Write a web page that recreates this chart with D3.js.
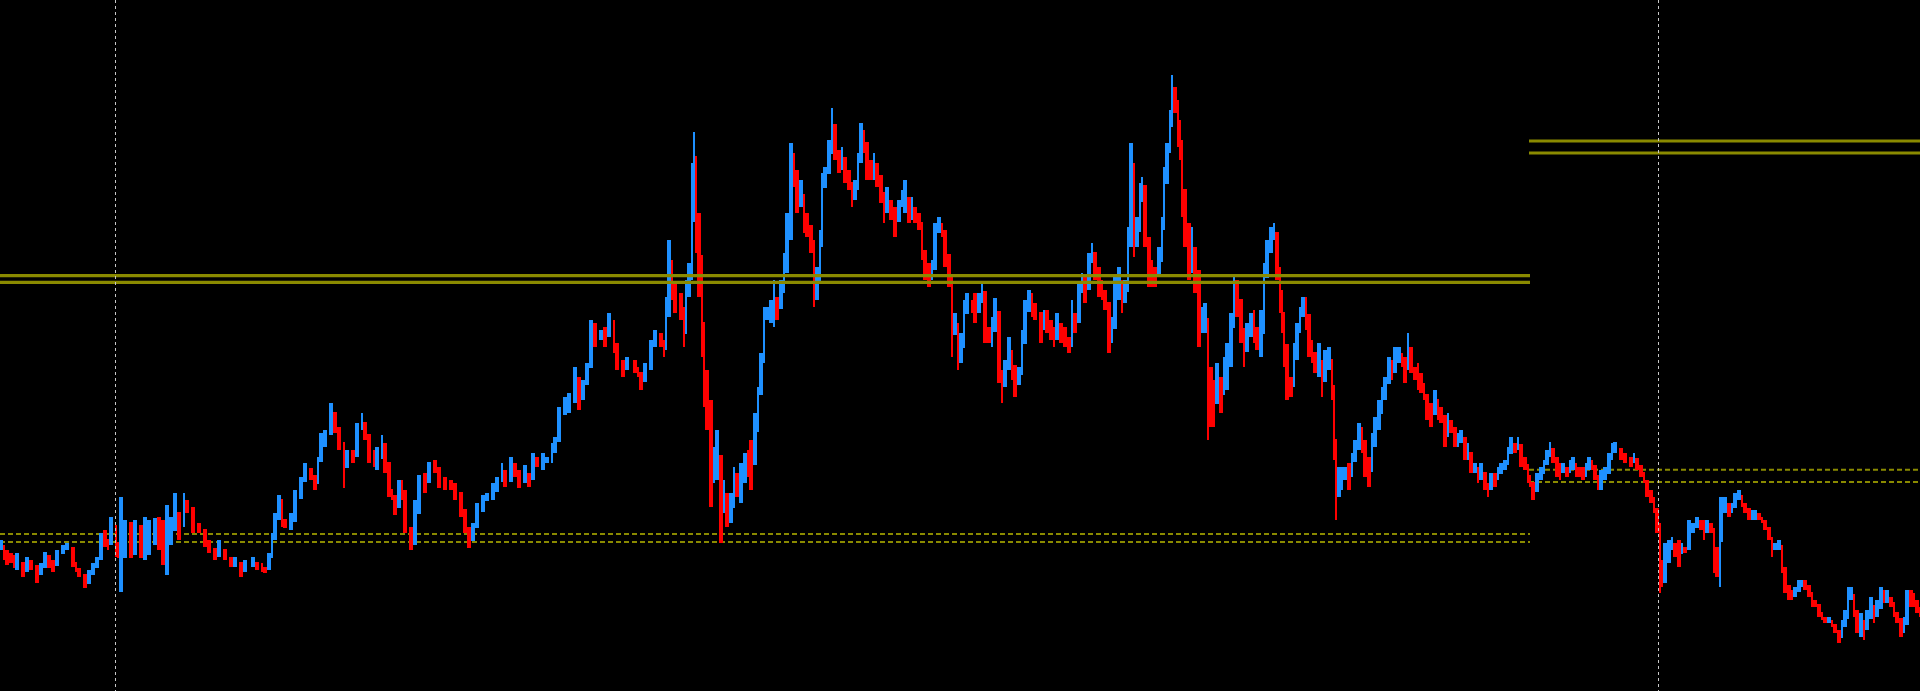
<!DOCTYPE html>
<html><head><meta charset="utf-8">
<script src="https://cdn.jsdelivr.net/npm/d3@7"></script>
<style>html,body{margin:0;padding:0;background:#000;overflow:hidden}svg{display:block}</style>
</head><body>
<svg id="chart" width="1920" height="691"></svg>
<script>
// ---- data: bar time (bar index), high, low (price in points) ----
const barTime = [
0,2,3,5,7, 8,11,13,15,18, 20,22,24,26,28, 31,33,36,38,39, 42,44,46,48,50, 52,54,55,58,59, 60,62,65,67,70, 72,74,77,79,81, 83,85,87,89,92, 93,96,99,102,104, 107,109,112,115,117, 120,122,126,128,131, 132,134,136,137,139, 141,142,145,147,150, 152,155,157,159,
160,162,165,167,169, 172,173,176,178,181, 182,184,187,188,191, 192,194,196,197,199, 201,202,205,207,209, 212,214,217,219,222, 225,227,230,232,234, 236,238,241,243,246, 248,251,252,255,257, 259,262,264,266,268, 271,273,276,277,279, 282,284,287,289,291, 293,295,297,300,302, 304,307,308,311,313, 317,319,
320,322,325,327,330, 332,333,334,336,337, 340,342,343,344,346, 347,348,349,351,352, 353,355,357,358,360, 362,363,365,367,368, 370,372,374,375,377, 379,380,382,383,385, 387,388,390,392,393, 395,397,398,400,402, 403,405,407,408,410, 411,412,414,416,417, 419,421,422,424,426, 427,429,430,432,433, 435,437,438,440,442, 443,445,447,449,451, 452,454,456,457,459, 461,462,464,466,467, 469,471,472,474,476, 477,479,
480,482,483,486,487, 489,491,492,494,496, 497,499,501,502,504, 506,507,509,511,512, 514,516,517,520,522, 523,525,527,528,530, 532,534,536,537,539, 541,542,544,546,547, 549,551,552,554,556, 557,559,561,562,564, 565,567,568,570,571, 572,574,576,577,579, 581,582,583,585,586, 587,589,590,591,592, 594,596,597,599,601, 602,604,605,607,608, 610,612,613,615,617, 618,620,622,623,625, 627,628,630,632,633, 635,637,638,640,
641,642,643,645,647, 648,650,651,653,654, 656,657,659,661,662, 664,666,667,668,669, 671,672,674,676,677, 679,681,682,684,686, 687,689,691,692,694, 696,697,699,701,702, 704,705,707,709,710, 712,713,715,717,719, 720,722,724,725,727, 729,730,732,734,735, 737,739,740,742,744, 745,747,749,750,752, 754,755,757,759,760, 762,764,765,766,768, 770,772,773,775,776, 778,780,781,783,785, 786,788,789,791,793, 794,796,797,799,
800,802,804,806,807, 810,812,815,817,818, 820,822,823,825,827, 828,830,831,832,834, 836,837,839,841,842, 844,846,848,850,852, 853,855,857,858,860, 861,862,864,866,867, 869,871,872,874,876, 877,879,881,882,884, 886,887,889,891,892, 894,896,897,899,901, 902,904,906,907,909, 911,912,914,916,917, 919,921,922,924,925, 927,928,930,932,933, 935,937,938,940,942, 943,945,947,948,950, 952,953,955,957,958, 960
];
const barHigh = [
460,455,450,447,445, 447,433,443,440,433, 437,448,445,440,450, 455,457,443,437,430, 420,430,437,443,467, 470,460,483,473,447, 503,480,478,480,475, 483,480,482,483,480, 495,483,507,487,507, 500,487,475,467,457, 450,460,447,440,443, 433,440,443,437,437, 433,447,467,487,505, 490,480,487,510,523, 537,530,523,543,
567,570,597,580,567, 553,550,550,577,587, 573,553,550,553,565, 550,520,510,500,520, 520,480,460,500,525, 527,538,540,523,523, 520,517,500,480,467, 477,497,505,507,517, 523,537,523,543,537, 523,535,527,547,543, 547,543,557,563,593, 603,607,633,610,620, 637,680,677,670,673, 687,667,640,640,643, 640,633,
627,637,660,670,667, 657,703,760,723,717, 707,680,720,737,837, 868,783,787,713,650, 630,570,553,570,523, 520,507,507,533,527, 537,547,550,560,587, 613,647,693,693,700, 720,703,720,747,787, 857,847,813,820,797, 787,773,733,733,770, 827,833,860,892,857, 850,853,843,827,810, 820,847,877,870,847, 840,847,837,820,797, 813,797,793,800,810, 820,797,803,793,787, 760,733,737,740,777, 783,777,760,740,687, 687,670,
667,700,707,700,707, 707,718,683,673,683, 702,643,630,640,663, 650,627,633,670,700, 710,707,697,683,690, 690,680,673,687,677, 673,660,700,687,717, 727,723,747,757,747, 723,720,707,667,683, 723,733,720,720,773, 857,783,783,817,823, 773,747,740,733,753, 783,833,857,890,925, 913,883,880,840,787, 777,773,753,707,693, 697,647,633,620,637, 623,643,657,687,723, 720,687,663,677,687, 690,673,690,737,760, 773,777,747,723,
710,680,640,623,657, 677,693,703,703,667, 660,647,657,633,650, 653,630,583,537,533, 533,533,537,547,560, 577,573,537,543,567, 583,600,613,623,643, 640,653,653,647,643, 667,637,633,637,627, 613,603,597,610,597, 593,573,587,580,567, 567,570,557,557,537, 537,533,537,523,517, 527,527,533,537,540, 553,563,557,563,547, 543,533,523,517,527, 533,540,550,558,550, 540,537,537,533,540, 543,537,533,533,537, 543,540,530,520,
530,533,547,557,558, 550,547,543,547,540, 533,523,517,510,497, 487,453,440,457,460, 463,457,460,457,453, 480,477,483,480,480, 480,477,457,453,503, 503,503,497,497,507, 510,500,497,490,490, 490,487,483,477,467, 457,457,460,440,423, 413,410,413,420,420, 420,413,403,400,393, 387,383,383,380,373, 367,380,390,413,413, 397,383,387,380,390, 403,393,400,413,410, 410,403,393,387,373, 383,410,410,407,397, 393
];
const barLow = [
450,440,435,437,432, 430,423,433,430,417, 427,440,432,428,443, 450,450,433,428,423, 412,420,428,437,457, 453,450,467,443,442, 408,442,442,445,442, 440,445,455,450,435, 425,455,470,460,493, 487,467,467,453,447, 440,443,440,433,433, 423,430,433,430,428, 427,437,453,473,497, 473,472,470,493,513, 527,520,510,533,
540,560,580,567,550, 512,540,537,563,570, 560,537,533,530,550, 527,503,500,485,507, 500,467,450,473,510, 507,530,527,512,510, 510,500,483,467,452, 467,480,493,500,500, 513,523,513,530,523, 512,520,513,537,533, 530,537,537,553,577, 590,587,613,590,610, 627,667,653,660,653, 673,647,630,623,630, 627,623,
610,623,647,657,653, 643,663,720,700,687, 680,653,687,707,720, 820,747,703,643,593, 570,493,517,520,457, 487,473,477,500,503, 497,527,523,510,550, 597,627,667,680,677, 673,680,697,707,733, 813,813,787,793,767, 763,747,693,700,737, 797,820,833,860,840, 827,830,817,810,793, 800,827,847,847,820, 820,820,813,797,777, 787,780,763,787,793, 787,777,780,777,770, 740,720,713,720,760, 767,763,733,713,643, 667,630,
637,673,693,687,677, 687,700,657,657,653, 677,617,597,623,630, 620,603,617,643,677, 693,683,680,657,673, 667,660,653,660,657, 653,647,673,667,700, 707,697,727,740,720, 703,700,690,647,660, 700,700,687,697,733, 817,743,753,780,807, 753,713,713,713,723, 757,800,837,857,890, 887,853,840,783,753, 720,727,707,653,667, 667,560,573,573,607, 587,607,610,657,693, 683,657,633,653,663, 657,650,643,707,740, 747,760,720,687,
667,633,600,603,623, 657,673,683,670,643, 637,627,623,603,623, 630,600,540,480,503, 510,520,510,530,540, 553,547,523,513,540, 557,573,587,610,623, 620,627,637,633,617, 640,627,620,610,607, 600,580,573,593,580, 577,553,567,567,553, 553,557,540,540,527, 527,517,520,510,503, 517,513,520,530,530, 540,547,547,550,533, 530,517,513,500,513, 520,530,537,547,537, 523,520,527,523,527, 530,523,523,520,523, 530,530,520,510,
510,520,533,543,547, 540,537,533,537,530, 523,517,503,497,487, 467,407,413,417,443, 450,443,433,447,447, 460,467,473,470,460, 467,467,427,423,413, 487,487,483,487,497, 500,493,487,480,480, 480,480,477,470,460, 443,450,450,427,407, 400,400,403,410,413, 410,403,393,393,383, 380,377,377,373,367, 357,367,373,397,400, 383,367,363,360,373, 387,377,383,400,397, 397,393,383,377,363, 367,397,393,393,387, 383
];
// period separators (bar time)
const separators = [57.9, 829.2];
// horizontal levels (price) and their time spans
const solidLevelsLeft = [724.3, 717.7];
const solidLevelsRight = [859, 847];
const dashedLevelsLeft = [466, 458];
const dashedLevelsRight = [530.3, 518];
const leftSpan = [0, 765];
const rightSpan = [764.5, 970];

const W = 1920, H = 691;
const svg = d3.select('#chart');
svg.append('rect').attr('width', W).attr('height', H).attr('fill', '#000');

const xs = d3.scaleLinear().domain([0, 960]).range([0, W]);
const ys = d3.scaleLinear().domain([309, 1000]).range([H, 0]);

const n = Math.min(barTime.length, barHigh.length, barLow.length);
const bars = d3.range(n).map(i => ({t: barTime[i], hi: barHigh[i], lo: barLow[i]}));
bars.forEach((b, i) => {
  b.close = (b.hi + b.lo) / 2;
  b.open = i > 0 ? bars[i-1].close : b.close;   // open at previous close
  b.bull = b.close >= b.open;
  b.next = i < n - 1 ? bars[i+1].t : b.t + 1;
});

const gBack = svg.append('g');
const gBars = svg.append('g').attr('shape-rendering', 'crispEdges');
const gFront = svg.append('g');

function hline(g, vals, span, color, width, dash) {
  g.selectAll(null).data(vals).enter().append('line')
    .attr('x1', xs(span[0])).attr('x2', xs(span[1]))
    .attr('y1', d => ys(d)).attr('y2', d => ys(d))
    .attr('stroke', color).attr('stroke-width', width)
    .attr('stroke-dasharray', dash || null);
}
hline(gBack, dashedLevelsLeft, leftSpan, '#8a8a00', 2, '5,3');
hline(gBack, dashedLevelsRight, rightSpan, '#8a8a00', 2, '5,3');

const col = d => d.bull ? '#1E90FF' : '#FF0000';
// wick (high-low, extended to the open)
gBars.selectAll('rect.w').data(bars).enter().append('rect')
  .attr('class', 'w')
  .attr('x', d => xs(d.t) - 1)
  .attr('width', d => Math.max(2, Math.min(4, xs(d.next) - xs(d.t))))
  .attr('y', d => ys(Math.max(d.hi, d.open)))
  .attr('height', d => Math.max(1, ys(Math.min(d.lo, d.open)) - ys(Math.max(d.hi, d.open))))
  .attr('fill', col);

hline(gFront, solidLevelsLeft, leftSpan, '#8a8a00', 3.2);
hline(gFront, solidLevelsRight, rightSpan, '#8a8a00', 3.2);

gFront.selectAll('line.sep').data(separators).enter().append('line')
  .attr('class', 'sep')
  .attr('x1', d => Math.floor(xs(d)) + 0.5).attr('x2', d => Math.floor(xs(d)) + 0.5)
  .attr('y1', 0).attr('y2', H)
  .attr('stroke', '#c8c8c8').attr('stroke-width', 1)
  .attr('stroke-dasharray', '3,3');
</script>
</body></html>
